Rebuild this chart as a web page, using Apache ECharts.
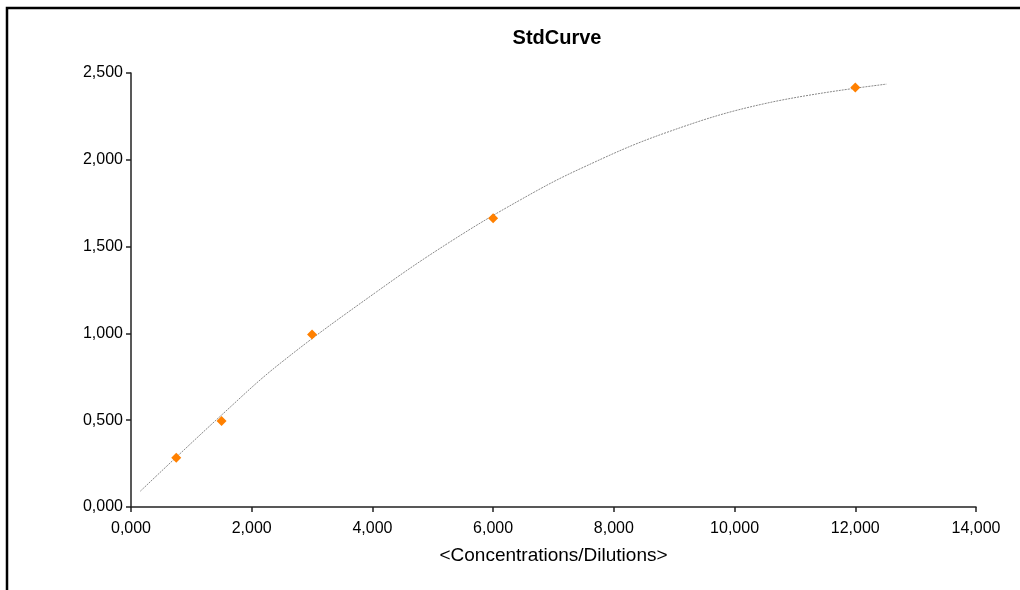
<!DOCTYPE html>
<html>
<head>
<meta charset="utf-8">
<script src="https://cdn.jsdelivr.net/npm/echarts@6/dist/echarts.min.js"></script>
<style>
	html, body { margin: 0; padding: 0; background: #fff; }
	#chart { width: 1020px; height: 590px; }
</style>
</head>
<body>
<div id="chart"></div>
<script>
// measured standards
var stdX = [ 0.75, 1.5, 3, 6, 12 ];
var stdY = [ 0.283, 0.496, 0.994, 1.663, 2.416 ];

// trend curve
var trendX = [ 0.154, 1.53, 2.47, 4.07, 5.29, 6.45, 7.44, 8.87, 10.53, 12.52 ];
var trendY = [ 0.091, 0.539, 0.827, 1.240, 1.528, 1.769, 1.948, 2.157, 2.326, 2.436 ];

var fontName = 'Liberation Sans, Arial, sans-serif';

function pairs(xs, ys) {
	var out = [];
	for (var i = 0; i < xs.length; i++) {
		out.push([ xs[i], ys[i] ]);
	}
	return out;
}

function fmt(v) {
	return v.toFixed(3).replace('.', ',');
}

var graph = echarts.init(document.getElementById('chart'));

var option = {
	animation : false,
	title : {
		text : 'StdCurve',
		left : 552,
		textAlign : 'center',
		top : 23,
		textStyle : {
			fontFamily : fontName,
			fontSize : 20,
			fontWeight : 'bold',
			color : '#000'
		}
	},
	grid : {
		left : 131,
		right : 44,
		top : 73,
		bottom : 83
	},
	graphic : [ {
		type : 'rect',
		shape : { x : 7, y : 8, width : 1200, height : 800 },
		style : { fill : 'none', stroke : '#000', lineWidth : 2.5 },
		silent : true
	} ],
	xAxis : {
		type : 'value',
		min : 0,
		max : 14,
		interval : 2,
		name : '<Concentrations/Dilutions>',
		nameLocation : 'middle',
		nameGap : 39,
		nameTextStyle : {
			fontFamily : fontName,
			fontSize : 19,
			color : '#000'
		},
		axisLine : { lineStyle : { color : '#222', width : 1.5 } },
		axisTick : { show : true, length : 5, lineStyle : { color : '#222', width : 1.5 } },
		axisLabel : {
			margin : 14,
			fontFamily : fontName,
			fontSize : 16,
			color : '#000',
			formatter : fmt
		},
		splitLine : { show : false }
	},
	yAxis : {
		type : 'value',
		min : 0,
		max : 2.5,
		interval : 0.5,
		axisLine : { show : true, lineStyle : { color : '#222', width : 1.5 } },
		axisTick : { show : true, length : 5, lineStyle : { color : '#222', width : 1.5 } },
		axisLabel : {
			margin : 8,
			fontFamily : fontName,
			fontSize : 16,
			color : '#000',
			formatter : fmt
		},
		splitLine : { show : false }
	},
	series : [ {
		name : 'trend',
		type : 'line',
		smooth : 0.4,
		showSymbol : false,
		silent : true,
		data : pairs(trendX, trendY),
		lineStyle : { color : '#888', width : 1, type : [ 2, 1 ] },
		z : 1
	}, {
		name : 'StdCurve',
		type : 'scatter',
		symbol : 'diamond',
		symbolSize : [ 10, 10 ],
		data : pairs(stdX, stdY),
		itemStyle : { color : '#ff8000', opacity : 1 },
		z : 3
	} ]
};

graph.setOption(option);
</script>
</body>
</html>
